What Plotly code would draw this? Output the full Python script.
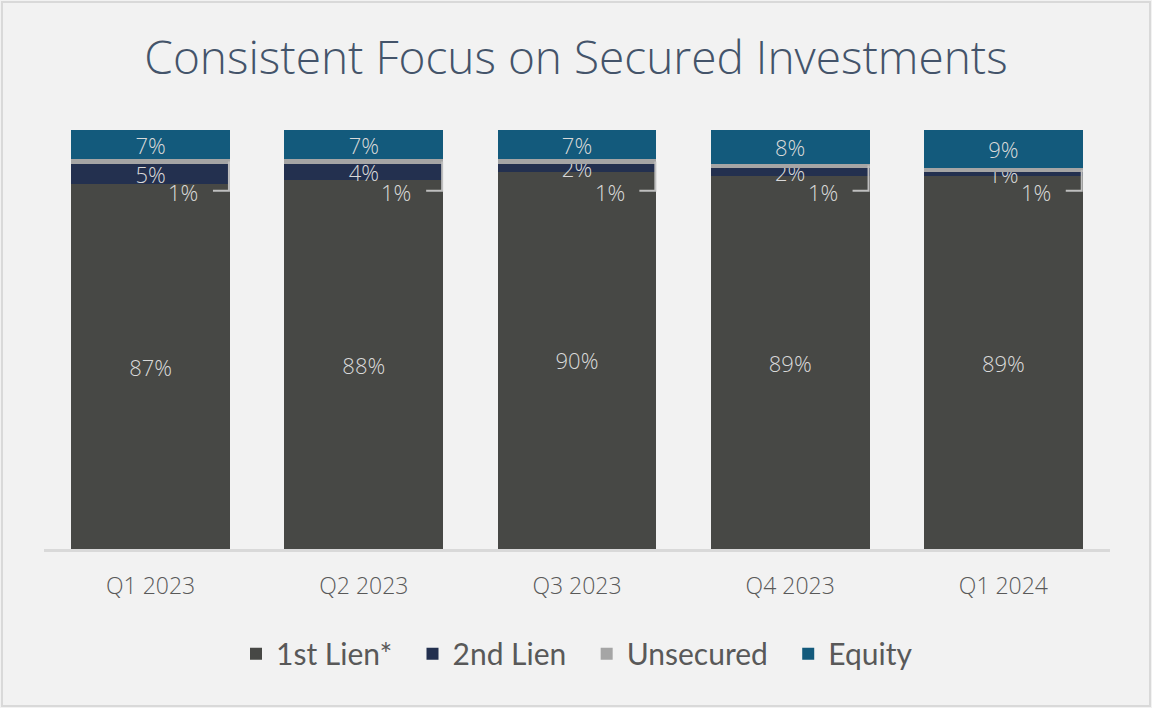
import plotly.graph_objects as go

# Data (percent of portfolio)
quarters = ["Q1 2023", "Q2 2023", "Q3 2023", "Q4 2023", "Q1 2024"]
first_lien = [87, 88, 90, 89, 89]
second_lien = [5, 4, 2, 2, 1]
unsecured = [1, 1, 1, 1, 1]
equity = [7, 7, 7, 8, 9]

colors = {
    "1st Lien*": "#474845",
    "2nd Lien": "#23304f",
    "Unsecured": "#a5a5a5",
    "Equity": "#135a7c",
}
label_font = dict(family="Open Sans", size=22, color="#d9d9d9", weight=300)
pad = "\u00a0\u00a0"

fig = go.Figure()

# Stacked bars, bottom to top
series = [("1st Lien*", first_lien), ("2nd Lien", second_lien),
          ("Unsecured", unsecured), ("Equity", equity)]
for k, (name, vals) in enumerate(series):
    show_text = name != "Unsecured"
    fig.add_trace(go.Bar(
        x=quarters, y=vals,
        name=name + (pad if k < len(series) - 1 else ""),
        marker=dict(color=colors[name], line=dict(width=0)),
        text=[f"{v}%" for v in vals] if show_text else None,
        textposition="inside" if show_text else "none",
        insidetextanchor="middle",
        textangle=0,
        constraintext="none",
        textfont=label_font,
        hoverinfo="skip",
    ))

# Unsecured labels sit outside the bar with an elbow leader line
half_bar = (1 - 0.255) / 2
for i, q in enumerate(quarters):
    seg_mid = first_lien[i] + second_lien[i] + unsecured[i] / 2
    elbow_y = 85.5
    fig.add_shape(type="path",
                  path=f"M {i + half_bar - 0.005},{seg_mid} L {i + half_bar - 0.005},{elbow_y} "
                       f"L {i + half_bar - 0.08},{elbow_y}",
                  xref="x", yref="y", line=dict(color="#bfbfbf", width=2))
    fig.add_annotation(x=i + 0.153, y=elbow_y - 0.3, xref="x", yref="y",
                       text=f"{unsecured[i]}%", showarrow=False,
                       font=label_font, xanchor="center", yanchor="middle")

W, H = 1152, 708
ml, mr, mt, mb = 44, 42, 130, 159
pw, ph = W - ml - mr, H - mt - mb
# outer frame
fig.add_shape(type="rect", xref="paper", yref="paper",
              x0=(2 - ml) / pw, x1=(W - 2 - ml) / pw,
              y0=(2 - mb) / ph, y1=(H - 2 - mb) / ph,
              line=dict(color="#d9d9d9", width=2), layer="below")

fig.update_layout(
    width=W, height=H,
    barmode="stack", bargap=0.255,
    paper_bgcolor="#f2f2f2", plot_bgcolor="#f2f2f2",
    margin=dict(l=ml, r=mr, t=mt, b=mb),
    title=dict(text="Consistent Focus on Secured Investments",
               x=0.5, xanchor="center", y=1 - 58 / H, yanchor="middle",
               font=dict(family="Open Sans", size=46, color="#44546a", weight=300)),
    xaxis=dict(showline=True, linecolor="#d9d9d9", linewidth=3, ticks="",
               tickfont=dict(family="Open Sans", size=23, color="#595959", weight=300),
               ticklabelstandoff=14, showgrid=False, zeroline=False),
    yaxis=dict(range=[0, 100], visible=False, showgrid=False, zeroline=False),
    legend=dict(orientation="h", x=0.5, xanchor="center", y=-0.25, yanchor="middle",
                font=dict(family="Lato", size=30, color="#595959"),
                traceorder="normal"),
    showlegend=True,
    hovermode=False,
)

fig.write_html("out.html", config={"displayModeBar": False},
               post_script="document.body.style.margin='0';")
